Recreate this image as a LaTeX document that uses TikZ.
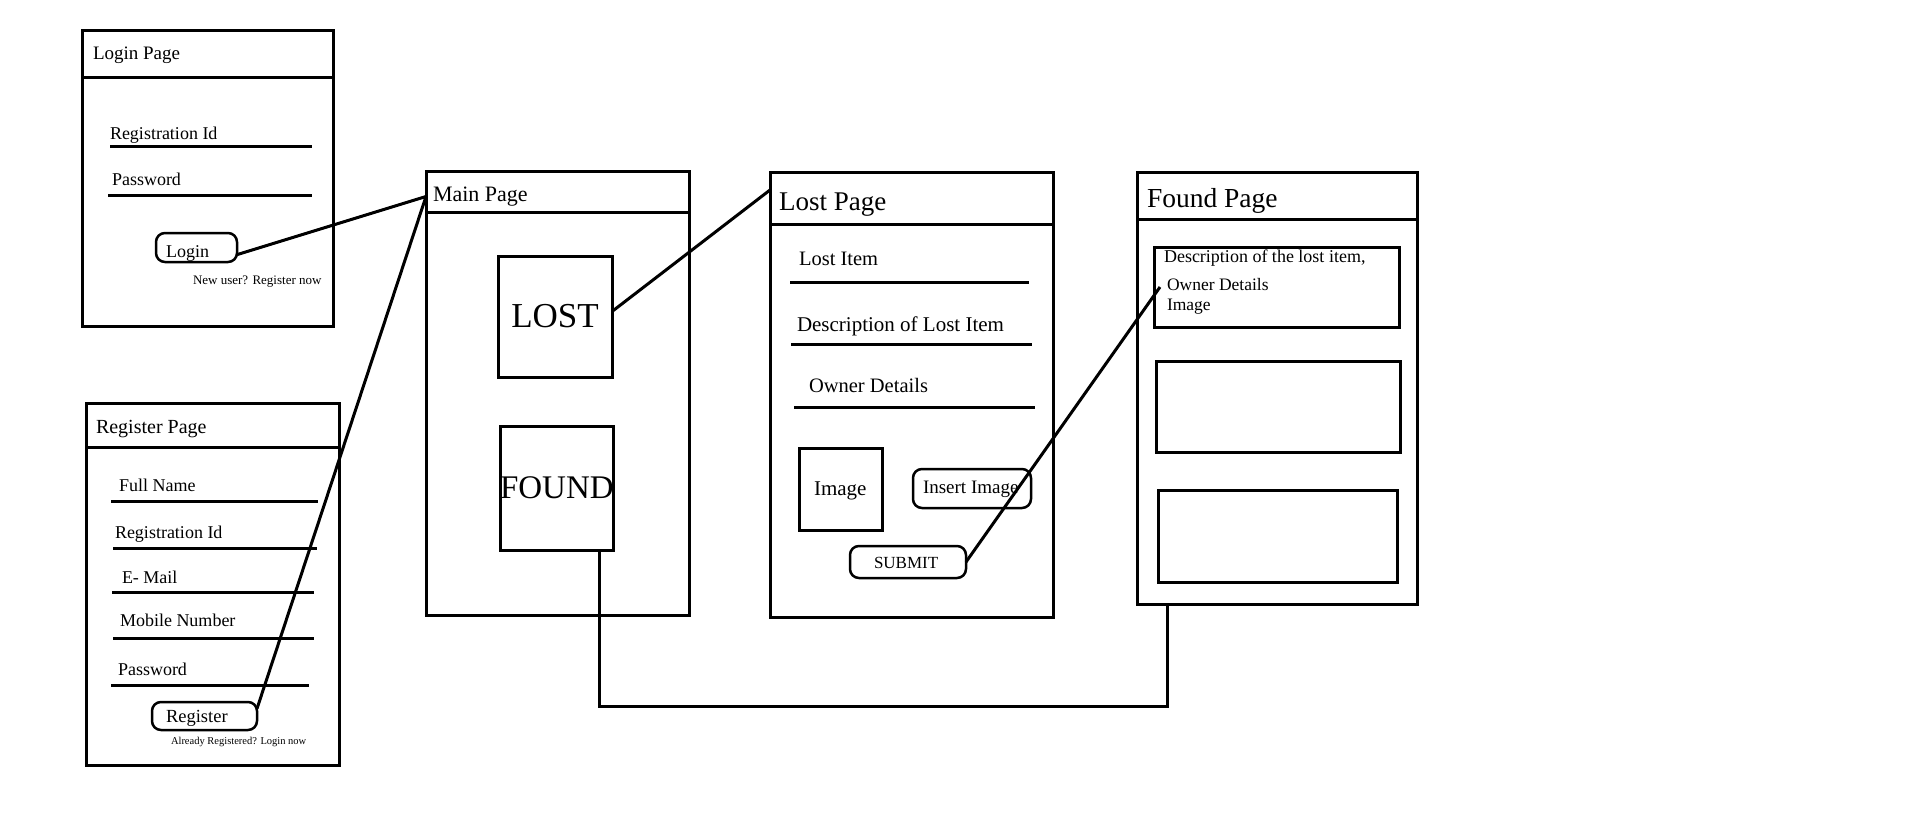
\documentclass[tikz,border=0pt]{standalone}
\usepackage{fontspec}
\setmainfont{Liberation Serif}
\usetikzlibrary{calc}
\newcommand{\myfs}[1]{\fontsize{#1pt}{#1pt}\selectfont}
\begin{document}
\begin{tikzpicture}[x=1pt,y=-1pt,
  box/.style={draw, line width=3pt, anchor=north west, inner sep=0pt, outer sep=0pt},
  btn/.style={draw, line width=2.5pt, rounded corners=9pt, anchor=north west, inner sep=0pt, outer sep=0pt},
  txt/.style={anchor=base west, inner sep=0pt, outer sep=0pt},
  field/.style={line width=3pt},
  link/.style={line width=3pt}]
\useasboundingbox (0,0) rectangle (1914,814);

% ---------- Login page ----------
\node[box, minimum width=251pt, minimum height=296pt] (login) at (82,30) {};
\node[box, minimum width=251pt, minimum height=47pt] (loginhead) at (82,30) {};
\node[txt, font=\myfs{19}] (tloginhead) at (93,59) {Login Page};
\node[txt, font=\myfs{18}] (tlregid) at (110,139) {Registration Id};
\draw[field] (110,146) -- (312,146);
\node[txt, font=\myfs{18}] (tlpass) at (112,185) {Password};
\draw[field] (108,195) -- (312,195);
\node[btn, minimum width=81pt, minimum height=29pt] (loginbtn) at (156,233) {};
\node[txt, font=\myfs{18}] (tloginbtn) at (166,257) {Login};
\node[txt, font=\myfs{13}] (tnew) at (193,284) {New user? Register now};

% ---------- Register page ----------
\node[box, minimum width=253pt, minimum height=362pt] (reg) at (86,403) {};
\node[box, minimum width=253pt, minimum height=44pt] (reghead) at (86,403) {};
\node[txt, font=\myfs{20}] (treghead) at (96,433) {Register Page};
\node[txt, font=\myfs{18}] (tfull) at (119,491) {Full Name};
\draw[field] (111,501) -- (318,501);
\node[txt, font=\myfs{18}] (trregid) at (115,538) {Registration Id};
\draw[field] (113,548) -- (317,548);
\node[txt, font=\myfs{18}] (tmail) at (122,583) {E- Mail};
\draw[field] (112,592) -- (314,592);
\node[txt, font=\myfs{18}] (tmob) at (120,626) {Mobile Number};
\draw[field] (113,638) -- (314,638);
\node[txt, font=\myfs{18}] (trpass) at (118,675) {Password};
\draw[field] (111,685) -- (309,685);
\node[btn, minimum width=105pt, minimum height=28pt] (regbtn) at (152,702) {};
\node[txt, font=\myfs{18.5}] (tregbtn) at (166,722) {Register};
\node[txt, font=\myfs{10.5}] (talready) at (171,744) {Already Registered? Login now};

% ---------- Main page ----------
\node[box, minimum width=263pt, minimum height=444pt] (main) at (426,171) {};
\node[box, minimum width=263pt, minimum height=41pt] (mainhead) at (426,171) {};
\node[txt, font=\myfs{22}] (tmainhead) at (433,201) {Main Page};
\node[box, minimum width=114pt, minimum height=121pt, font=\myfs{35}] (lostbtn) at (498,256) {LOST};
\node[box, minimum width=113pt, minimum height=124pt, font=\myfs{33}] (foundbtn) at (500,426) {FOUND};

% ---------- Lost page ----------
\node[box, minimum width=283pt, minimum height=445pt] (lostpage) at (770,172) {};
\node[box, minimum width=283pt, minimum height=52pt] (losthead) at (770,172) {};
\node[txt, font=\myfs{27}] (tlosthead) at (779,210) {Lost Page};
\node[txt, font=\myfs{20.5}] (tlostitem) at (799,265) {Lost Item};
\draw[field] (790,282) -- (1029,282);
\node[txt, font=\myfs{21}] (tdesc) at (797,331) {Description of Lost Item};
\draw[field] (791,344) -- (1032,344);
\node[txt, font=\myfs{20.5}] (towner) at (809,392) {Owner Details};
\draw[field] (794,407) -- (1035,407);
\node[box, minimum width=83pt, minimum height=82pt] (imgbox) at (799,448) {};
\node[txt, font=\myfs{21}] (timg) at (814,495) {Image};
\node[btn, minimum width=118pt, minimum height=39pt] (insertbtn) at (913,469) {};
\node[txt, font=\myfs{19}] (tinsert) at (923,493) {Insert Image};
\node[btn, minimum width=116pt, minimum height=32pt] (submitbtn) at (850,546) {};
\node[txt, font=\myfs{17}] (tsubmit) at (874,568) {SUBMIT};

% ---------- Found page ----------
\node[box, minimum width=280pt, minimum height=432pt] (foundpage) at (1137,172) {};
\node[box, minimum width=280pt, minimum height=47pt] (foundhead) at (1137,172) {};
\node[txt, font=\myfs{27.5}] (tfoundhead) at (1147,207) {Found Page};
\node[box, minimum width=245pt, minimum height=80pt] (fbox1) at (1154,247) {};
\node[txt, font=\myfs{18}] (tfdesc) at (1164,262) {Description of the lost item,};
\node[txt, font=\myfs{17.5}] (tfowner) at (1167,290) {Owner Details};
\node[txt, font=\myfs{17.5}] (tfimg) at (1167,310) {Image};
\node[box, minimum width=244pt, minimum height=91pt] (fbox2) at (1156,361) {};
\node[box, minimum width=239pt, minimum height=92pt] (fbox3) at (1158,490) {};

% ---------- Connectors ----------
\draw[link] (loginbtn.-10) -- ($(mainhead.west)+(0,5)$);
\draw[link] (regbtn.8) -- ($(mainhead.west)+(0,5)$);
\draw[link] (lostbtn.5) -- ($(losthead.west)+(0,-8)$);
\draw[link] (submitbtn.east) -- ($(fbox1.west)+(6,0)$);
\draw[link] ([xshift=-14pt]foundbtn.south east) -- ++(0,156) -| ([xshift=30pt]foundpage.south west);
\end{tikzpicture}
\end{document}
